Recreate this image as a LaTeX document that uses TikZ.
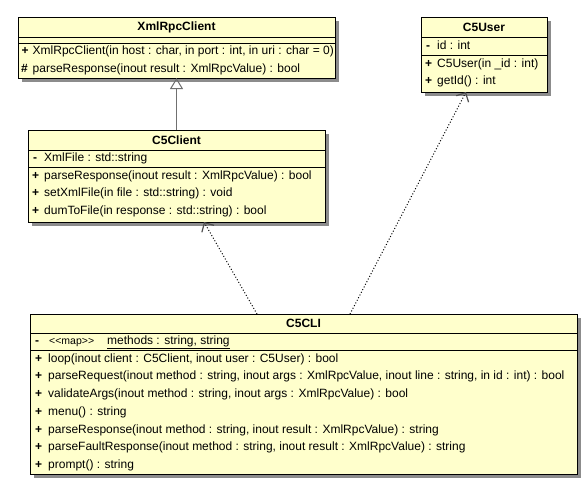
\documentclass[tikz,border=0pt]{standalone}
\usepackage{fontspec}
\setmainfont{Liberation Sans}
\newfontfamily\plainsans{Liberation Sans}
\usetikzlibrary{arrows.meta,calc,shadows}
\definecolor{umlfill}{HTML}{FFFFCC}
\definecolor{shadowgray}{HTML}{8C8C8C}
\definecolor{arrowgray}{HTML}{707070}
\definecolor{barbgray}{HTML}{505050}
\tikzset{
  umlbox/.style={draw=black, line width=1pt, fill=umlfill, inner sep=0pt, outer sep=0pt,
    anchor=north west,
    drop shadow={shadow xshift=4pt, shadow yshift=-4pt, fill=shadowgray, opacity=1}},
  umltitle/.style={inner sep=0pt, font=\fontsize{12}{14}\selectfont\bfseries},
  umltext/.style={inner sep=0pt, anchor=west, text height=9pt, text depth=2.6pt,
    font=\fontsize{12}{14}\selectfont},
  umlmark/.style={inner sep=0pt, anchor=west, text height=9pt, text depth=2.6pt,
    font=\fontsize{12}{14}\selectfont\bfseries},
  sepline/.style={draw=black, line width=1pt},
  inherit/.style={draw=arrowgray, line width=1pt, -{Triangle[open, length=11pt, width=13pt]}},
  depend/.style={draw=black, line width=1pt, dash pattern=on 1pt off 2pt,
    -{Straight Barb[length=7pt, width=14pt, line width=1.2pt, color=barbgray]}}
}
\begin{document}
\begin{tikzpicture}[x=1pt,y=-1pt]
\useasboundingbox (0,0) rectangle (588,483);

% ---------- XmlRpcClient ----------
\node[umlbox, minimum width=317pt, minimum height=61pt] (xrc) at (18,17) {};
\node[umltitle] (xrcT) at ($(xrc.north)+(0,10)$) {XmlRpcClient};
\draw[sepline] ($(xrc.north west)+(0,20)$) -- ($(xrc.north east)+(0,20)$);
\draw[sepline] ($(xrc.north west)+(0,26)$) -- ($(xrc.north east)+(0,26)$);
\node[umlmark] (xrcM1) at ($(xrc.north west)+(3.5,34.75)$) {+};
\node[umltext] (xrcL1) at ($(xrc.north west)+(14.5,34.75)$) {XmlRpcClient(in host : char, in port : int, in uri : char = 0)};
\node[umlmark] (xrcM2) at ($(xrc.north west)+(3,52.25)$) {\#};
\node[umltext] (xrcL2) at ($(xrc.north west)+(14.5,52.25)$) {parseResponse(inout result : XmlRpcValue) : bool};

% ---------- C5User ----------
\node[umlbox, minimum width=126pt, minimum height=75pt] (usr) at (421,17) {};
\node[umltitle] (usrT) at ($(usr.north)+(0,10)$) {C5User};
\draw[sepline] ($(usr.north west)+(0,20)$) -- ($(usr.north east)+(0,20)$);
\draw[sepline] ($(usr.north west)+(0,38)$) -- ($(usr.north east)+(0,38)$);
\node[umlmark] (usrM0) at ($(usr.north west)+(5,29)$) {-};
\node[umltext] (usrA1) at ($(usr.north west)+(16,29)$) {id : int};
\node[umlmark] (usrM1) at ($(usr.north west)+(4,47)$) {+};
\node[umltext] (usrL1) at ($(usr.north west)+(16,47)$) {C5User(in \_id : int)};
\node[umlmark] (usrM2) at ($(usr.north west)+(4,64.5)$) {+};
\node[umltext] (usrL2) at ($(usr.north west)+(16,64.5)$) {getId() : int};

% ---------- C5Client ----------
\node[umlbox, minimum width=297pt, minimum height=92pt] (cc) at (28,130) {};
\node[umltitle] (ccT) at ($(cc.north)+(0,10)$) {C5Client};
\draw[sepline] ($(cc.north west)+(0,20)$) -- ($(cc.north east)+(0,20)$);
\draw[sepline] ($(cc.north west)+(0,37)$) -- ($(cc.north east)+(0,37)$);
\node[umlmark] (ccM0) at ($(cc.north west)+(5,28.5)$) {-};
\node[umltext] (ccA1) at ($(cc.north west)+(16,28.5)$) {XmlFile : std::string};
\node[umlmark] (ccM1) at ($(cc.north west)+(4,46)$) {+};
\node[umltext] (ccL1) at ($(cc.north west)+(16,46)$) {parseResponse(inout result : XmlRpcValue) : bool};
\node[umlmark] (ccM2) at ($(cc.north west)+(4,63.5)$) {+};
\node[umltext] (ccL2) at ($(cc.north west)+(16,63.5)$) {setXmlFile(in file : std::string) : void};
\node[umlmark] (ccM3) at ($(cc.north west)+(4,81)$) {+};
\node[umltext] (ccL3) at ($(cc.north west)+(16,81)$) {dumToFile(in response : std::string) : bool};

% ---------- C5CLI ----------
\node[umlbox, minimum width=547pt, minimum height=160pt] (cli) at (30,314) {};
\node[umltitle] (cliT) at ($(cli.north)+(0,9.5)$) {C5CLI};
\draw[sepline] ($(cli.north west)+(0,19)$) -- ($(cli.north east)+(0,19)$);
\draw[sepline] ($(cli.north west)+(0,36)$) -- ($(cli.north east)+(0,36)$);
\node[umlmark] (cliM0) at ($(cli.north west)+(5,27.5)$) {-};
\node[umltext] (cliA1) at ($(cli.north west)+(19,27.5)$) {{\plainsans\fontsize{10.5}{12}\selectfont <<map>>}\hspace{13pt}\underline{methods : string, string}};
\node[umlmark] (cliM1) at ($(cli.north west)+(5,45)$) {+};
\node[umltext] (cliL1) at ($(cli.north west)+(18,45)$) {loop(inout client : C5Client, inout user : C5User) : bool};
\node[umlmark] (cliM2) at ($(cli.north west)+(5,62.7)$) {+};
\node[umltext] (cliL2) at ($(cli.north west)+(18,62.7)$) {parseRequest(inout method : string, inout args : XmlRpcValue, inout line : string, in id : int) : bool};
\node[umlmark] (cliM3) at ($(cli.north west)+(5,80.4)$) {+};
\node[umltext] (cliL3) at ($(cli.north west)+(18,80.4)$) {validateArgs(inout method : string, inout args : XmlRpcValue) : bool};
\node[umlmark] (cliM4) at ($(cli.north west)+(5,98.1)$) {+};
\node[umltext] (cliL4) at ($(cli.north west)+(18,98.1)$) {menu() : string};
\node[umlmark] (cliM5) at ($(cli.north west)+(5,115.8)$) {+};
\node[umltext] (cliL5) at ($(cli.north west)+(18,115.8)$) {parseResponse(inout method : string, inout result : XmlRpcValue) : string};
\node[umlmark] (cliM6) at ($(cli.north west)+(5,133.5)$) {+};
\node[umltext] (cliL6) at ($(cli.north west)+(18,133.5)$) {parseFaultResponse(inout method : string, inout result : XmlRpcValue) : string};
\node[umlmark] (cliM7) at ($(cli.north west)+(5,151.2)$) {+};
\node[umltext] (cliL7) at ($(cli.north west)+(18,151.2)$) {prompt() : string};

% ---------- connectors ----------
\draw[inherit] (cc.north) -- (xrc.south);
\coordinate (d1s) at ($(cli.north west)+(227,0)$);
\coordinate (d1e) at ($(cc.south west)+(176,0)$);
\draw[depend] (d1s) -- (d1e);
\coordinate (d2s) at ($(cli.north west)+(320,0)$);
\coordinate (d2e) at ($(usr.south west)+(45,0)$);
\draw[depend] (d2s) -- (d2e);
\end{tikzpicture}
\end{document}
